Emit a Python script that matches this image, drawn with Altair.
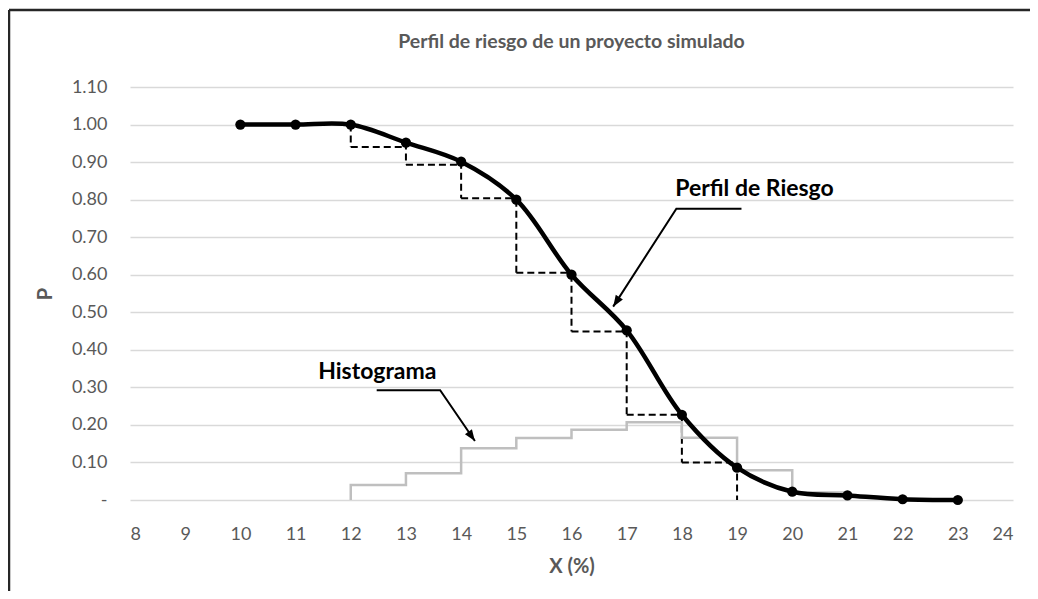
import altair as alt
import pandas as pd

FONT = "Lato, sans-serif"
GRAY_TXT = "#595959"

# axis ticks
x_ticks = list(range(8, 25))
y_ticks = [0.0, 0.1, 0.2, 0.3, 0.4, 0.5, 0.6, 0.7, 0.8, 0.9, 1.0, 1.1]

# chart title
title_text = ["Perfil de riesgo de un proyecto simulado"]

# risk profile (cumulative probability of exceeding X)
curve_x = [10, 11, 12, 13, 14, 15, 16, 17, 18, 19, 20, 21, 22, 23]
curve_p = [1.00, 1.00, 1.00, 0.952, 0.901, 0.80, 0.60, 0.452, 0.227, 0.086, 0.022, 0.012, 0.002, 0.0]

# dashed step profile
step_x = [12, 13, 14, 15, 16, 17, 18, 19]
step_top = [1.00, 0.952, 0.901, 0.80, 0.60, 0.452, 0.227, 0.10]
step_bottom = [0.94, 0.893, 0.804, 0.605, 0.449, 0.227, 0.10, 0.0]

# histogram (step line)
hist_x = [12, 12, 13, 14, 15, 16, 17, 18, 19, 20, 21]
hist_p = [0.0, 0.04, 0.071, 0.138, 0.165, 0.187, 0.207, 0.166, 0.079, 0.02, 0.012]

# annotations
label_text = ["Perfil de Riesgo", "Histograma"]
label_x = [17.88, 11.41]
label_y = [0.828, 0.341]
leader_id = ["perfil", "perfil", "perfil", "hist", "hist", "hist"]
leader_x = [19.08, 17.90, 16.755, 12.47, 13.62, 14.25]
leader_y = [0.776, 0.776, 0.515, 0.2925, 0.2925, 0.157]
arrow_x = [16.755, 14.25]
arrow_y = [0.515, 0.157]
arrow_angle = [213, 145]

curve_df = pd.DataFrame({"x": curve_x, "p": curve_p})
vstep_df = pd.DataFrame({"x": step_x, "p": step_top, "p2": step_bottom})
hstep_df = pd.DataFrame({"x": step_x[:-1], "x2": step_x[1:], "p": step_bottom[:-1]})
hist_df = pd.DataFrame({"x": hist_x, "p": hist_p, "i": list(range(len(hist_x)))})
label_df = pd.DataFrame({"x": label_x, "p": label_y, "t": label_text})
leader_df = pd.DataFrame({"x": leader_x, "p": leader_y, "g": leader_id, "i": list(range(len(leader_x)))})
arrow_df = pd.DataFrame({"x": arrow_x, "p": arrow_y, "a": arrow_angle})
title_df = pd.DataFrame({"t": title_text})
one_df = pd.DataFrame({"k": [0]})

W, H = 883, 413

x_scale = alt.Scale(domain=[8, 24], nice=False, zero=False)
y_scale = alt.Scale(domain=[0, 1.1], nice=False)

x_axis = alt.Axis(values=x_ticks, title="X (%)", grid=False, domain=False, ticks=False, tickSize=0,
                  labelPadding=25, labelFontSize=18, labelFont=FONT, labelColor=GRAY_TXT,
                  titleFont=FONT, titleFontSize=20, titleFontWeight="bold", titleColor=GRAY_TXT,
                  titleY=66, titleBaseline="middle")
y_axis = alt.Axis(values=y_ticks, title="P", grid=True, gridColor="#d9d9d9", gridWidth=1.5,
                  domain=False, ticks=False, tickSize=0, labelPadding=23,
                  labelExpr="datum.value == 0 ? '-\u00a0\u00a0\u00a0' : format(datum.value, '.2f')",
                  labelFontSize=18, labelFont=FONT, labelColor=GRAY_TXT,
                  titleFont=FONT, titleFontSize=20, titleFontWeight="bold", titleColor=GRAY_TXT,
                  titleX=-85, titleY=H / 2, titleAngle=270, titleAlign="center", titleBaseline="middle")

X = alt.X("x:Q", scale=x_scale, axis=x_axis)
Y = alt.Y("p:Q", scale=y_scale, axis=y_axis)

vstep = alt.Chart(vstep_df).mark_rule(color="black", strokeWidth=2, strokeDash=[7, 4]).encode(
    x=X, y=Y, y2="p2:Q")
hstep = alt.Chart(hstep_df).mark_rule(color="black", strokeWidth=2, strokeDash=[7, 4]).encode(
    x=X, x2="x2:Q", y=Y)

hist = alt.Chart(hist_df).mark_line(color="#bfbfbf", strokeWidth=2.5, interpolate="step-after").encode(
    x=X, y=Y, order="i:Q")

curve = alt.Chart(curve_df).mark_line(color="black", strokeWidth=4.5, interpolate="catmull-rom").encode(x=X, y=Y)
dots = alt.Chart(curve_df).mark_circle(color="black", size=105, opacity=1).encode(x=X, y=Y)

labels = alt.Chart(label_df).mark_text(align="left", baseline="middle", font=FONT, fontSize=23,
                                       fontWeight="bold", color="black").encode(x=X, y=Y, text="t:N")
leaders = alt.Chart(leader_df).mark_line(color="black", strokeWidth=2).encode(
    x=X, y=Y, detail="g:N", order="i:Q")
arrows = alt.Chart(arrow_df).mark_point(shape="M0,0L-0.6,1.6L0.6,1.6Z", filled=True, size=200,
                                        color="black", opacity=1).encode(
    x=X, y=Y, angle=alt.Angle("a:Q", scale=None))

title = alt.Chart(title_df).mark_text(align="center", baseline="middle", font=FONT, fontSize=19.5,
                                      fontWeight="bold", color=GRAY_TXT).encode(
    x=alt.value(W / 2), y=alt.value(-45), text="t:N")

frame_left = alt.Chart(one_df).mark_rule(color="#262626", strokeWidth=2.5).encode(
    x=alt.value(-121), y=alt.value(-77), y2=alt.value(530))
frame_top = alt.Chart(one_df).mark_rule(color="#262626", strokeWidth=2.5).encode(
    x=alt.value(-121), x2=alt.value(930), y=alt.value(-77))

chart = alt.layer(
    vstep, hstep, hist, curve, dots, leaders, arrows, labels, title, frame_left, frame_top
).properties(
    width=W, height=H,
    autosize=alt.AutoSizeParams(type="none"),
    padding={"left": 122, "top": 79, "right": 17, "bottom": 91},
).configure_view(stroke=None)

chart.save("out.html", embed_options={"renderer": "svg", "actions": False})
